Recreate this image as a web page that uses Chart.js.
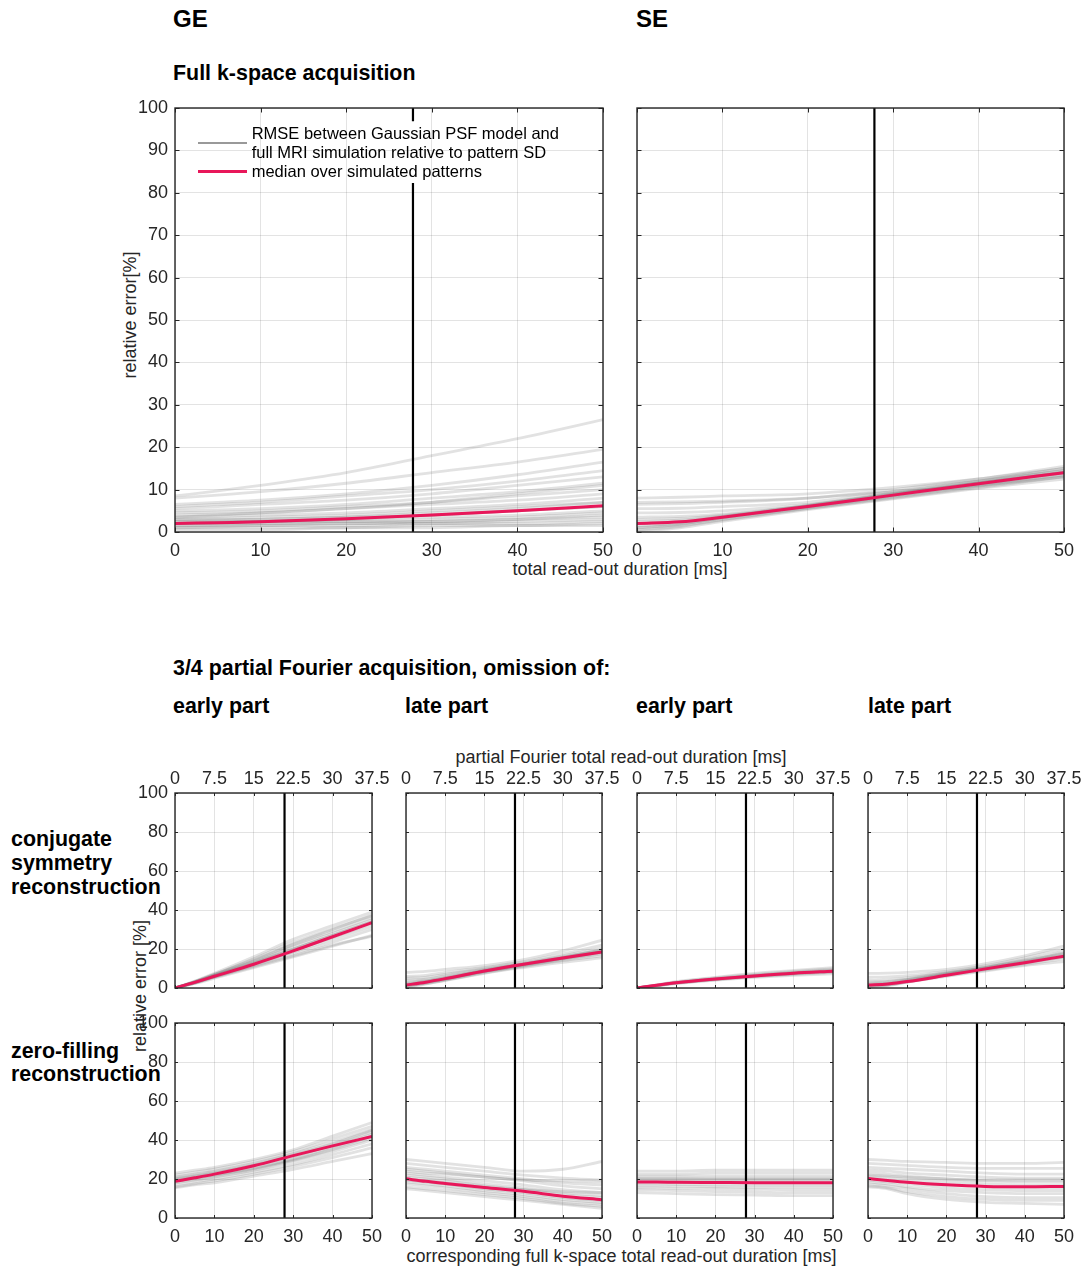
<!DOCTYPE html>
<html><head><meta charset="utf-8">
<script src="https://cdn.jsdelivr.net/npm/chart.js@4.4.0/dist/chart.umd.min.js"></script>
<style>
body{margin:0;background:#fff;width:1086px;height:1269px;position:relative;overflow:hidden;font-family:"Liberation Sans",Arial,Helvetica,sans-serif;}
.t{position:absolute;white-space:nowrap;line-height:1;color:#000;}
.h{font-weight:bold;font-size:21.4px;}
.a{font-size:18px;color:#262626;}
canvas{position:absolute;}
</style></head><body>
<div class="t" style="left:173px;top:7px;font-weight:bold;font-size:24px;">GE</div>
<div class="t" style="left:636px;top:7px;font-weight:bold;font-size:24px;">SE</div>
<div class="t h" style="left:173px;top:62.6px;">Full k-space acquisition</div>
<div class="t h" style="left:173px;top:658px;">3/4 partial Fourier acquisition, omission of:</div>
<div class="t h" style="left:173px;top:696px;">early part</div>
<div class="t h" style="left:405px;top:696px;">late part</div>
<div class="t h" style="left:636px;top:696px;">early part</div>
<div class="t h" style="left:868px;top:696px;">late part</div>
<div class="t h" style="left:11px;top:827px;line-height:24px;">conjugate<br>symmetry<br>reconstruction</div>
<div class="t h" style="left:11px;top:1040px;line-height:23px;">zero-filling<br>reconstruction</div>
<div class="t a" style="left:620px;top:560px;transform:translateX(-50%);">total read-out duration [ms]</div>
<div class="t a" style="left:621px;top:748px;transform:translateX(-50%);">partial Fourier total read-out duration [ms]</div>
<div class="t a" style="left:621.5px;top:1247px;transform:translateX(-50%);">corresponding full k-space total read-out duration [ms]</div>
<div class="t a" style="left:130px;top:315px;transform:translate(-50%,-50%) rotate(-90deg);">relative error[%]</div>
<div class="t a" style="left:140px;top:985.5px;transform:translate(-50%,-50%) rotate(-90deg);">relative error [%]</div>
<script>
// ---------- data ----------
const X = [0, 5, 10, 20, 30, 40, 50];          // full k-space read-out duration [ms]
const VLINE = 27.8;                             // marked read-out duration [ms]
const LEGEND_GAP = [82.3, 96.9];                // y-range of the GE vertical line hidden by the legend

const GE_FULL_MEDIAN = [2, 2.2, 2.4, 3.1, 4, 5, 6.2];
const GE_FULL_PATTERNS = [
  [8.5, 9.7, 11, 14, 18, 22, 26.5],
  [8, 8.7, 9.5, 11.5, 14, 16.5, 19.5],
  [6.5, 7, 7.5, 9, 11, 13.5, 16.5],
  [6, 6.5, 7, 8.5, 10, 12, 14.5],
  [5.5, 6, 6.5, 7.5, 9, 11, 13],
  [5, 5.2, 5.5, 6.5, 8, 9.5, 11.5],
  [4.5, 4.7, 5, 6, 7, 8.5, 10],
  [4, 4.2, 4.5, 5.5, 6.5, 7.5, 9],
  [3.5, 3.7, 4, 4.5, 5.5, 6.5, 8],
  [3, 3.2, 3.5, 4, 5, 6, 7],
  [3, 3, 3, 3.5, 4, 5, 6],
  [2.5, 2.5, 2.5, 3, 3.5, 4, 5],
  [2, 2.2, 2.5, 2.5, 3, 3.5, 4.5],
  [2, 2, 2, 2.5, 2.5, 3, 3.5],
  [1.5, 1.5, 1.5, 2, 2, 2.5, 3],
  [1, 1.2, 1.5, 1.5, 2, 2, 2.5],
  [1, 1, 1, 1, 1.5, 1.5, 2],
  [0.5, 0.5, 0.5, 1, 1, 1.5, 1.5],
  [2.5, 2.7, 3, 3.5, 4.5, 5.5, 7],
  [1.5, 1.7, 2, 2, 2.5, 3, 4],
  [3.5, 4, 4.5, 5.5, 7, 9, 11],
  [2, 2.2, 2.5, 3, 4, 5, 6]
];

const SE_FULL_MEDIAN = [2, 2.4, 3.5, 6, 8.7, 11.4, 14];
const SE_FULL_PATTERNS = [
  [8, 8.2, 8.5, 9, 10.5, 12.5, 15],
  [6.5, 6.7, 7, 8, 10, 12.5, 15.5],
  [5.5, 5.6, 6, 7, 9.5, 12, 14.5],
  [4.5, 4.6, 5, 6.5, 9, 11.5, 14],
  [3.5, 3.7, 4.2, 6.2, 8.8, 11.5, 14],
  [2.5, 2.8, 3.7, 6, 8.5, 11.2, 13.8],
  [1.5, 2, 3.3, 5.8, 8.5, 11, 13.5],
  [1, 1.6, 3, 5.6, 8.2, 10.8, 13.2],
  [0.5, 1.3, 2.8, 5.5, 8, 10.5, 13],
  [0.2, 1, 2.5, 5.3, 7.8, 10.3, 12.5],
  [2, 2.3, 3.6, 6.2, 9, 11.8, 14.5],
  [1, 1.8, 3.4, 6.1, 8.8, 11.6, 14.2],
  [7, 7.1, 7.3, 8, 9.5, 11, 13],
  [3, 3.2, 4, 6.3, 9.2, 12, 15]
];

const CS_GE_EARLY_MEDIAN = [0, 2.9, 6, 12.2, 19, 26.3, 33.5];
const CS_GE_EARLY_PATTERNS = [
  [0, 3.5, 7.5, 16, 25, 32, 39],
  [0, 3.3, 7, 15, 23.5, 30.5, 37],
  [0, 3.2, 6.8, 14, 22, 29, 36],
  [0, 3, 6.5, 13.5, 21, 28, 35],
  [0, 3, 6.3, 13, 20, 27, 34],
  [0, 2.8, 6, 12.5, 19.5, 26, 33],
  [0, 2.7, 5.8, 12, 18.5, 25, 31.5],
  [0, 2.5, 5.5, 11.5, 17.5, 23.5, 30],
  [0, 2.3, 5, 10.5, 16, 21.5, 27],
  [0, 2.5, 5.5, 11, 16.5, 22, 26.5],
  [0, 3.2, 7, 14.5, 22.5, 30, 37.5],
  [0, 2.9, 6.2, 12.8, 20, 27, 34]
];

const CS_GE_LATE_MEDIAN = [1.5, 3, 4.8, 8.7, 12.2, 15.4, 18.5];
const CS_GE_LATE_PATTERNS = [
  [8, 8.5, 9.5, 11.5, 14.5, 19, 24.5],
  [6, 6.5, 8, 10.5, 13.5, 17.5, 22],
  [5, 5.5, 7, 10, 13, 16.5, 20.5],
  [4, 4.5, 6.3, 9.5, 12.5, 16, 19.5],
  [3, 4, 5.5, 9, 12.3, 15.5, 19],
  [2, 3.3, 5, 8.7, 12, 15.2, 18.5],
  [1.5, 3, 4.7, 8.5, 11.7, 15, 18],
  [1, 2.5, 4.3, 8.2, 11.3, 14.5, 17.5],
  [0.5, 2, 4, 7.8, 11, 14, 16.5],
  [1, 2.2, 3.8, 7.5, 10.5, 13.2, 15.5],
  [2.5, 3.5, 5.3, 9, 12.3, 15.8, 19.5],
  [1.5, 2.8, 4.6, 8.6, 11.8, 15.3, 18.7]
];

const CS_SE_EARLY_MEDIAN = [0, 1.4, 2.7, 4.6, 6.2, 7.6, 8.6];
const CS_SE_EARLY_PATTERNS = [
  [0, 1.6, 3.3, 5.5, 7.5, 9, 10.5],
  [0, 1.5, 3, 5.2, 7, 8.5, 9.8],
  [0, 1.4, 2.8, 4.8, 6.5, 8, 9.2],
  [0, 1.3, 2.6, 4.5, 6.2, 7.5, 8.6],
  [0, 1.2, 2.4, 4.2, 5.8, 7, 8],
  [0, 1.1, 2.2, 4, 5.5, 6.5, 7.3],
  [0, 1.3, 2.7, 4.6, 6.3, 7.8, 9],
  [0, 1.2, 2.5, 4.4, 6, 7.3, 8.3]
];

const CS_SE_LATE_MEDIAN = [1.5, 2.1, 3.3, 6.5, 9.8, 13, 16.3];
const CS_SE_LATE_PATTERNS = [
  [7.5, 7.6, 8, 9.5, 12.5, 16.5, 21.5],
  [5.5, 5.7, 6.3, 8.5, 11.5, 15.5, 20],
  [4, 4.3, 5.2, 8, 11, 14.5, 18.5],
  [3, 3.4, 4.6, 7.6, 10.6, 14, 17.5],
  [2, 2.5, 4, 7.2, 10.2, 13.5, 17],
  [1.5, 2, 3.6, 7, 10, 13.2, 16.5],
  [1, 1.6, 3.3, 6.7, 9.6, 12.7, 15.8],
  [0.5, 1.2, 3, 6.3, 9.2, 12, 15],
  [1, 1.5, 3, 6, 8.7, 11.5, 13.5],
  [2.5, 3, 4.3, 7.4, 10.5, 14, 18]
];

const ZF_GE_EARLY_MEDIAN = [18.8, 20.6, 22.5, 26.8, 32, 37, 41.8];
const ZF_GE_EARLY_PATTERNS = [
  [23, 24.5, 26, 30, 35, 42, 49],
  [22, 23.5, 25, 29, 34, 40.5, 47],
  [21, 22.5, 24, 28, 33, 39, 45.5],
  [20, 21.5, 23, 27, 31.5, 37.5, 44],
  [19, 20.5, 22, 25.5, 30, 35.5, 42],
  [18, 19.5, 21, 24.5, 29, 34, 40],
  [17, 18.5, 20, 23.5, 27.5, 32.5, 38],
  [16, 17.5, 19, 22.5, 26.5, 31, 36],
  [15.5, 17, 18, 21.5, 25, 29, 33],
  [19.5, 21, 22.5, 26, 30.5, 36.5, 43],
  [18.5, 20, 21.5, 25, 29.5, 35, 41],
  [20.5, 22, 23.5, 27.5, 32.5, 38, 45]
];

const ZF_GE_LATE_MEDIAN = [20.1, 18.8, 17.7, 15.6, 13.7, 11.2, 9.4];
const ZF_GE_LATE_PATTERNS = [
  [30, 29, 28, 26, 24, 25, 29],
  [28, 27, 26, 24, 22, 20.5, 19.5],
  [26, 25, 24, 22, 20, 18, 17],
  [25, 24, 23, 21, 19, 16.5, 15],
  [23, 22, 21, 19, 17, 14.5, 13],
  [22, 21, 20, 17.5, 15.5, 13, 11.5],
  [21, 20, 19, 16.5, 14.5, 12, 10.5],
  [19.5, 18.5, 17.5, 15, 13, 10.5, 9],
  [18.5, 17.5, 16.5, 14, 12, 9.5, 8],
  [17.5, 16.5, 15.5, 13, 11, 8.5, 7],
  [16, 15, 14, 12, 10, 7.5, 6],
  [15, 14, 13, 11, 9, 7, 5],
  [20, 19, 18, 16, 14.5, 13.5, 13],
  [24, 23, 22.5, 21, 19.5, 19, 18.5]
];

const ZF_SE_EARLY_MEDIAN = [18.4, 18.4, 18.3, 18.2, 18.1, 18.1, 18.1];
const ZF_SE_EARLY_PATTERNS = [
  [24, 24, 24, 24.5, 24.5, 24.5, 24.5],
  [22.5, 22.5, 22.5, 23, 23, 23, 23],
  [21.5, 21.5, 21.5, 21.5, 21.5, 21.5, 21.5],
  [20.5, 20.5, 20.5, 20.5, 20.5, 20.5, 20.5],
  [19.5, 19.5, 19.5, 19.5, 19.5, 19.5, 19.5],
  [18.5, 18.5, 18.5, 18.3, 18.2, 18.2, 18.1],
  [17.5, 17.5, 17.3, 17, 17, 17, 17],
  [16.5, 16.5, 16.3, 16, 15.8, 15.8, 15.8],
  [15.5, 15.5, 15.2, 15, 14.7, 14.5, 14.5],
  [14.5, 14.3, 14, 13.5, 13.3, 13, 13],
  [13, 12.8, 12.5, 12, 11.8, 11.5, 11.5],
  [20, 20, 20, 19.8, 19.8, 19.8, 19.8]
];

const ZF_SE_LATE_MEDIAN = [20.2, 19.2, 18.3, 17, 16.2, 16, 16.2];
const ZF_SE_LATE_PATTERNS = [
  [30, 29.5, 29, 28.5, 28, 28, 28.5],
  [28, 27.5, 27, 26, 25.5, 25.5, 25.5],
  [26, 25.5, 25, 24, 23, 22.5, 22.5],
  [24.5, 24, 23, 22, 21, 20.5, 20.5],
  [23, 22.5, 21.5, 20, 19, 18.5, 18.5],
  [21.5, 21, 20, 18.5, 17.5, 17, 17],
  [20.5, 19.5, 18.5, 17, 16, 15.5, 15.5],
  [19.5, 18.5, 17.5, 15.5, 14.5, 14, 14],
  [18.5, 17.5, 16, 14, 13, 12.5, 12.5],
  [17.5, 16.5, 15, 12.5, 11, 10.5, 10.5],
  [16.5, 15.5, 13.5, 11, 9.5, 9, 9],
  [16, 15, 12.5, 9.5, 8, 7.5, 7],
  [22, 21.5, 21, 20, 19.5, 19.5, 19.5]
];

const LEGEND_LABELS = ['RMSE between Gaussian PSF model and', 'full MRI simulation relative to pattern SD', 'median over simulated patterns'];

// ---------- styling / layout ----------
const PINK = '#e8175a';
const GRAY = 'rgba(110,110,110,0.2)';
const GRID = 'rgba(38,38,38,0.13)';
const AXC = '#262626';
const FONT = {family: '"Liberation Sans", Arial, Helvetica, sans-serif', size: 18};
const ML = 60, MR = 22, MT = 34, MB = 34;

function boxPlugin(tl) {
  return {
    id: 'box',
    afterDraw(chart) {
      const {ctx, chartArea: a, scales} = chart;
      ctx.save();
      ctx.strokeStyle = AXC;
      ctx.lineWidth = 1;
      ctx.beginPath();
      scales.x.ticks.forEach(t => {
        const p = Math.round(scales.x.getPixelForValue(t.value)) + 0.5;
        ctx.moveTo(p, a.bottom); ctx.lineTo(p, a.bottom - tl);
        ctx.moveTo(p, a.top); ctx.lineTo(p, a.top + tl);
      });
      scales.y.ticks.forEach(t => {
        const p = Math.round(scales.y.getPixelForValue(t.value)) + 0.5;
        ctx.moveTo(a.left, p); ctx.lineTo(a.left + tl, p);
        ctx.moveTo(a.right, p); ctx.lineTo(a.right - tl, p);
      });
      ctx.stroke();
      ctx.lineWidth = 1.4;
      ctx.strokeRect(a.left, a.top, a.right - a.left, a.bottom - a.top);
      ctx.restore();
    }
  };
}

function panel(rect, median, patterns, o) {
  const [l, t, r, b] = rect;
  const W = r - l + ML + MR, H = b - t + MT + MB;
  const c = document.createElement('canvas');
  c.width = W; c.height = H;
  c.style.left = (l - ML) + 'px'; c.style.top = (t - MT) + 'px';
  c.style.width = W + 'px'; c.style.height = H + 'px';
  document.body.appendChild(c);
  const pts = arr => X.map((x, i) => ({x, y: arr[i]}));
  const vline = o.gap
    ? [{x: VLINE, y: 0}, {x: VLINE, y: o.gap[0]}, {x: VLINE, y: null}, {x: VLINE, y: o.gap[1]}, {x: VLINE, y: 100}]
    : [{x: VLINE, y: 0}, {x: VLINE, y: 100}];
  const datasets = [
    {data: pts(median), borderColor: PINK, borderWidth: 3, order: 0, cubicInterpolationMode: 'monotone'},
    {data: vline, borderColor: '#000', borderWidth: 2.2, order: 1, tension: 0, cubicInterpolationMode: 'default', spanGaps: false}
  ];
  patterns.forEach(p => datasets.push({data: pts(p), borderColor: GRAY, borderWidth: 2.8, order: 2, cubicInterpolationMode: 'monotone'}));
  new Chart(c, {
    type: 'line',
    data: {datasets},
    options: {
      responsive: false, animation: false, devicePixelRatio: 1,
      layout: {padding: {left: 0, top: 0, bottom: 0, right: MR}},
      elements: {point: {radius: 0}, line: {fill: false}},
      plugins: {legend: {display: false}, tooltip: {enabled: false}},
      scales: {
        x: {type: 'linear', position: 'bottom', min: 0, max: 50,
            ticks: {stepSize: 10, display: o.xLabels, padding: 8, font: FONT, color: AXC, maxRotation: 0},
            grid: {color: GRID, drawTicks: false}, border: {display: false},
            afterFit: s => { s.height = MB; }},
        x2: {type: 'linear', position: 'top', min: 0, max: 37.5,
            ticks: {stepSize: 7.5, display: o.topLabels, padding: 3.5, font: FONT, color: AXC, maxRotation: 0},
            grid: {display: false, drawTicks: false}, border: {display: false},
            afterFit: s => { s.height = MT; }},
        y: {type: 'linear', position: 'left', min: 0, max: 100,
            ticks: {stepSize: o.yStep, display: o.yLabels, padding: 7, font: FONT, color: AXC},
            grid: {color: GRID, drawTicks: false}, border: {display: false},
            afterFit: s => { s.width = ML; }}
      }
    },
    plugins: [boxPlugin(o.tl)]
  });
}

// top row: full k-space
panel([175, 108, 603, 532], GE_FULL_MEDIAN, GE_FULL_PATTERNS, {yStep: 10, yLabels: true, xLabels: true, topLabels: false, tl: 4.5, gap: LEGEND_GAP});
panel([637, 108, 1064, 532], SE_FULL_MEDIAN, SE_FULL_PATTERNS, {yStep: 10, yLabels: false, xLabels: true, topLabels: false, tl: 4.5});

// bottom rows: partial Fourier
const COLS = [[175, 372], [406, 602], [637, 833], [868, 1064]];
const CS = [[CS_GE_EARLY_MEDIAN, CS_GE_EARLY_PATTERNS], [CS_GE_LATE_MEDIAN, CS_GE_LATE_PATTERNS], [CS_SE_EARLY_MEDIAN, CS_SE_EARLY_PATTERNS], [CS_SE_LATE_MEDIAN, CS_SE_LATE_PATTERNS]];
const ZF = [[ZF_GE_EARLY_MEDIAN, ZF_GE_EARLY_PATTERNS], [ZF_GE_LATE_MEDIAN, ZF_GE_LATE_PATTERNS], [ZF_SE_EARLY_MEDIAN, ZF_SE_EARLY_PATTERNS], [ZF_SE_LATE_MEDIAN, ZF_SE_LATE_PATTERNS]];
COLS.forEach(([l, r], i) => {
  panel([l, 793, r, 988], CS[i][0], CS[i][1], {yStep: 20, yLabels: i === 0, xLabels: false, topLabels: true, tl: 3});
  panel([l, 1023, r, 1218], ZF[i][0], ZF[i][1], {yStep: 20, yLabels: i === 0, xLabels: true, topLabels: false, tl: 3});
});

// legend (HTML, over the GE panel)
const lg = document.createElement('div');
lg.style.cssText = 'position:absolute;left:198px;top:123.7px;';
lg.innerHTML =
  '<div style="position:absolute;left:0;top:18px;width:49px;height:2.5px;background:#999;"></div>' +
  '<div style="position:absolute;left:0;top:46.5px;width:49px;height:3px;background:' + PINK + ';"></div>' +
  '<div style="position:absolute;left:53.7px;top:0;font-size:16.5px;line-height:19.2px;white-space:nowrap;color:#000;">' +
  LEGEND_LABELS.join('<br>') + '</div>';
document.body.appendChild(lg);
</script>
</body></html>
